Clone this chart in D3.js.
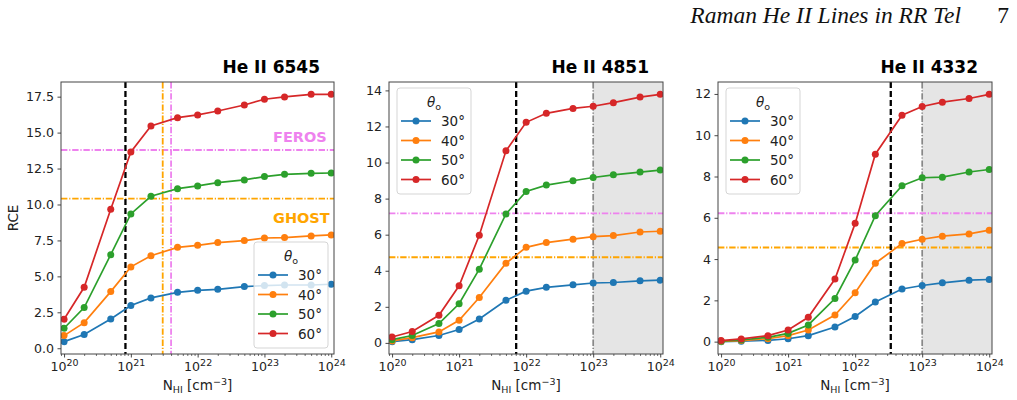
<!DOCTYPE html>
<html><head><meta charset="utf-8">
<script src="https://cdn.jsdelivr.net/npm/d3@7"></script>
<style>body{margin:0;background:#fff}svg{display:block}</style>
</head><body><svg id="c" width="1017" height="400"></svg>
<script>
const nH = [1e20,2e20,5e20,1e21,2e21,5e21,1e22,2e22,5e22,1e23,2e23,5e23,1e24];
const angles = ["30°","40°","50°","60°"];
const colors = ["#1f77b4","#ff7f0e","#2ca02c","#d62728"];
const titles = ["He II 6545","He II 4851","He II 4332"];

// RCE values per panel, per angle (30,40,50,60)
const rce6545 = [
  [0.46,0.95,2.04,2.97,3.50,3.89,4.03,4.10,4.29,4.36,4.40,4.40,4.45],
  [0.88,1.78,3.94,5.66,6.44,7.02,7.16,7.35,7.49,7.67,7.70,7.81,7.88],
  [1.39,2.83,6.51,9.34,10.57,11.10,11.29,11.52,11.71,11.94,12.10,12.17,12.19],
  [2.02,4.24,9.67,13.65,15.46,16.04,16.23,16.50,16.92,17.32,17.48,17.66,17.66]
];
const rce4851 = [
  [0.07,0.18,0.41,0.74,1.33,2.36,2.87,3.08,3.22,3.32,3.35,3.44,3.48],
  [0.11,0.29,0.61,1.25,2.52,4.42,5.30,5.56,5.75,5.89,5.95,6.15,6.19],
  [0.18,0.41,1.07,2.17,4.09,7.15,8.40,8.75,8.99,9.17,9.32,9.47,9.58],
  [0.33,0.63,1.53,3.17,5.97,10.65,12.23,12.73,13.00,13.12,13.32,13.63,13.78]
];
const rce4332 = [
  [0.00,0.02,0.06,0.14,0.29,0.71,1.22,1.92,2.55,2.72,2.85,2.98,3.01],
  [0.01,0.05,0.14,0.29,0.56,1.29,2.37,3.80,4.75,4.96,5.11,5.22,5.40],
  [0.02,0.08,0.21,0.40,0.81,2.09,3.95,6.10,7.55,7.94,7.97,8.22,8.34],
  [0.05,0.13,0.29,0.56,1.18,3.03,5.73,9.08,10.97,11.39,11.60,11.78,11.98]
];
// reference levels
const ferosLevel = [13.79, 7.18, 6.22];
const ghostLevel = [10.41, 4.75, 4.56];
const blackDashX = [8.3e20, 7.1e21, 3.4e22];
const ghostX6545 = 3e21, ferosX6545 = 4e21;
const shadeStart = [null, 1e23, 1e23];
const yTicks = [
  [0,2.5,5,7.5,10,12.5,15,17.5],
  [0,2,4,6,8,10,12,14],
  [0,2,4,6,8,10,12]
];
const yTickLabels = [
  ["0.0","2.5","5.0","7.5","10.0","12.5","15.0","17.5"],
  ["0","2","4","6","8","10","12","14"],
  ["0","2","4","6","8","10","12"]
];
const xTicks = [1e20,1e21,1e22,1e23,1e24];
const xTickExp = ["20","21","22","23","24"];
const xlim = [0.9e20, 1.1e24];

const svg = d3.select("#c");
const panels = [
  {left:61, right:334, legend:[254,242], data:rce6545},
  {left:389, right:663, legend:[397,88], data:rce4851},
  {left:718, right:992, legend:[726,88], data:rce4332}
];
const plotTop=82, plotBottom=354;
const font = "DejaVu Sans, sans-serif";
const dashDot = "6.4,1.8,1.2,1.8";

// header
svg.append("text").attr("x",961).attr("y",23).attr("text-anchor","end")
  .attr("font-family","Liberation Serif, Times New Roman, serif").attr("font-style","italic")
  .attr("font-size",23.5).attr("fill","#111").text("Raman He II Lines in RR Tel");
svg.append("text").attr("x",1009).attr("y",23).attr("text-anchor","end")
  .attr("font-family","Liberation Serif, Times New Roman, serif")
  .attr("font-size",23.5).attr("fill","#111").text("7");

panels.forEach((p,i)=>{
  const g = svg.append("g");
  const x = d3.scaleLog().domain(xlim).range([p.left,p.right]);
  const all = p.data.flat().concat([ferosLevel[i], ghostLevel[i]]);
  const mn = d3.min(all), mx = d3.max(all), r = mx-mn;
  const y = d3.scaleLinear().domain([mn-0.05*r, mx+0.05*r]).range([plotBottom, plotTop]);
  const clipId = "clip"+i;
  svg.append("clipPath").attr("id",clipId).append("rect")
    .attr("x",p.left).attr("y",plotTop).attr("width",p.right-p.left).attr("height",plotBottom-plotTop);
  const pg = g.append("g").attr("clip-path",`url(#${clipId})`);

  if (shadeStart[i]) {
    pg.append("rect").attr("x",x(shadeStart[i])).attr("y",plotTop)
      .attr("width",p.right-x(shadeStart[i])).attr("height",plotBottom-plotTop).attr("fill","#e5e5e5");
    pg.append("line").attr("x1",x(shadeStart[i])).attr("x2",x(shadeStart[i]))
      .attr("y1",plotTop).attr("y2",plotBottom).attr("stroke","#888").attr("stroke-width",1.7)
      .attr("stroke-dasharray",dashDot);
  }
  // horizontal levels
  [[ferosLevel[i],"violet"],[ghostLevel[i],"orange"]].forEach(([v,c])=>{
    pg.append("line").attr("x1",p.left).attr("x2",p.right).attr("y1",y(v)).attr("y2",y(v))
      .attr("stroke",c).attr("stroke-width",1.8).attr("stroke-dasharray",dashDot);
  });
  if (i===0) {
    [[ghostX6545,"orange"],[ferosX6545,"violet"]].forEach(([v,c])=>{
      pg.append("line").attr("x1",x(v)).attr("x2",x(v)).attr("y1",plotTop).attr("y2",plotBottom)
        .attr("stroke",c).attr("stroke-width",1.8).attr("stroke-dasharray",dashDot);
    });
    pg.append("text").attr("x",273).attr("y",y(ferosLevel[0])-8).attr("font-family",font)
      .attr("font-weight","bold").attr("font-size",14.5).attr("fill","violet").text("FEROS");
    pg.append("text").attr("x",273).attr("y",y(ghostLevel[0])+24).attr("font-family",font)
      .attr("font-weight","bold").attr("font-size",14.5).attr("fill","orange").text("GHOST");
  }
  pg.append("line").attr("x1",x(blackDashX[i])).attr("x2",x(blackDashX[i])).attr("y1",plotTop).attr("y2",plotBottom)
    .attr("stroke","#000").attr("stroke-width",2.3).attr("stroke-dasharray","6,3");

  // data
  const line = d3.line().x((d,k)=>x(nH[k])).y(d=>y(d));
  p.data.forEach((s,j)=>{
    pg.append("path").attr("d",line(s)).attr("fill","none").attr("stroke",colors[j]).attr("stroke-width",1.7);
    pg.selectAll(null).data(s).enter().append("circle")
      .attr("cx",(d,k)=>x(nH[k])).attr("cy",d=>y(d)).attr("r",3.5).attr("fill",colors[j]);
  });

  // frame
  g.append("rect").attr("x",p.left).attr("y",plotTop).attr("width",p.right-p.left).attr("height",plotBottom-plotTop)
    .attr("fill","none").attr("stroke","#444").attr("stroke-width",1);

  // y axis
  const ya = g.append("g").attr("transform",`translate(${p.left},0)`)
    .call(d3.axisLeft(y).tickValues(yTicks[i]).tickFormat((d,k)=>yTickLabels[i][k]).tickSize(3.5).tickPadding(3.5));
  ya.select(".domain").remove();
  ya.selectAll("line").attr("stroke","#333").attr("stroke-width",0.9);
  ya.selectAll("text").attr("font-family",font).attr("font-size",12.6).attr("fill","#222");

  // x axis minor ticks
  const minors=[];
  for (let e=19;e<=24;e++) for (let m=2;m<=9;m++){const v=m*Math.pow(10,e); if(v>=xlim[0]*0.999 && v<=xlim[1]) minors.push(v);}
  const xm = g.append("g").attr("transform",`translate(0,${plotBottom})`)
    .call(d3.axisBottom(x).tickValues(minors).tickFormat("").tickSize(2));
  xm.select(".domain").remove();
  xm.selectAll("line").attr("stroke","#333").attr("stroke-width",0.7);
  const xa = g.append("g").attr("transform",`translate(0,${plotBottom})`)
    .call(d3.axisBottom(x).tickValues(xTicks).tickFormat("").tickSize(3.5));
  xa.select(".domain").remove();
  xa.selectAll("line").attr("stroke","#333").attr("stroke-width",0.9);
  xa.selectAll(".tick").append("text").attr("y",17).attr("text-anchor","middle")
    .attr("font-family",font).attr("font-size",12.6).attr("fill","#222")
    .each(function(d,k){
      const t=d3.select(this);
      t.append("tspan").text("10");
      t.append("tspan").attr("dy",-5.5).attr("font-size",9.5).text(xTickExp[k]);
    });

  // x label
  const xl = g.append("text").attr("x",(p.left+p.right)/2).attr("y",390).attr("text-anchor","middle")
    .attr("font-family",font).attr("font-size",13.5).attr("fill","#222");
  xl.append("tspan").text("N");
  xl.append("tspan").attr("font-size",9.5).attr("dy",2.5).text("HI");
  xl.append("tspan").attr("dy",-2.5).text(" [cm");
  xl.append("tspan").attr("font-size",9.5).attr("dy",-5.5).text("−3");
  xl.append("tspan").attr("dy",5.5).text("]");

  // title
  g.append("text").attr("x",p.right-14).attr("y",73).attr("text-anchor","end")
    .attr("font-family",font).attr("font-weight","bold").attr("font-size",17).attr("fill","#000").text(titles[i]);

  // legend
  const [lx,ly]=p.legend;
  const lg = g.append("g").attr("transform",`translate(${lx},${ly})`);
  lg.append("rect").attr("width",74).attr("height",106).attr("rx",3)
    .attr("fill","#fff").attr("fill-opacity",0.8).attr("stroke","#d5d5d5").attr("stroke-width",1);
  const lt = lg.append("text").attr("x",37).attr("y",19).attr("text-anchor","middle")
    .attr("font-family",font).attr("font-size",13.5).attr("fill","#222");
  lt.append("tspan").attr("font-style","italic").text("θ");
  lt.append("tspan").attr("font-size",9.5).attr("dy",3).text("o");
  angles.forEach((a,j)=>{
    const cy = 33+j*19.5;
    lg.append("line").attr("x1",4).attr("x2",34).attr("y1",cy).attr("y2",cy).attr("stroke",colors[j]).attr("stroke-width",1.7);
    lg.append("circle").attr("cx",19).attr("cy",cy).attr("r",3.5).attr("fill",colors[j]);
    lg.append("text").attr("x",44).attr("y",cy+5).attr("font-family",font).attr("font-size",13.5).attr("fill","#222").text(a);
  });
});

// y label
svg.append("text").attr("transform","translate(18,218) rotate(-90)").attr("text-anchor","middle")
  .attr("font-family",font).attr("font-size",13.5).attr("fill","#222").text("RCE");
</script></body></html>
